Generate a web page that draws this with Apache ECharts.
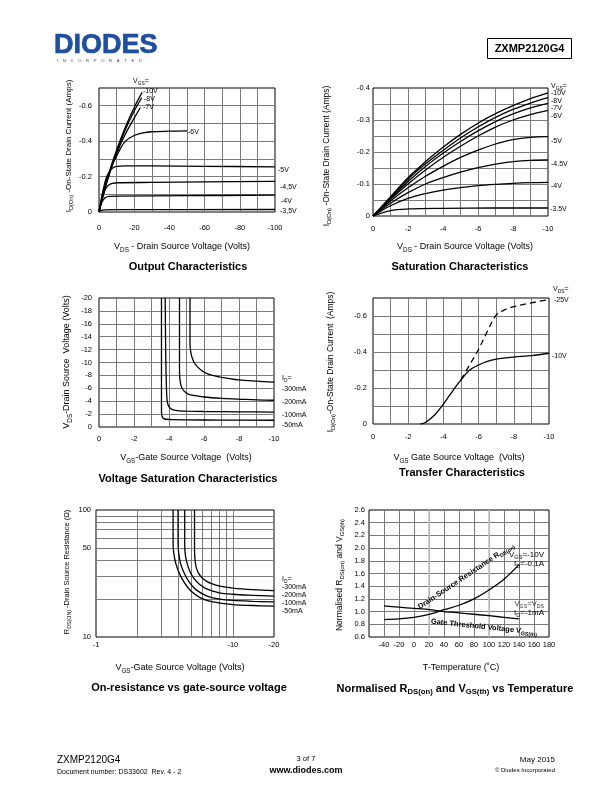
<!DOCTYPE html>
<html><head><meta charset="utf-8">
<script src="https://cdn.jsdelivr.net/npm/echarts@6/dist/echarts.min.js"></script>
<style>html,body{margin:0;padding:0;background:#fff}#c{width:612px;height:792px}</style>
</head><body><div id="c"></div>
<script>
const FF = "'Liberation Sans', Arial, Helvetica, sans-serif";

// ---- Chart 1: Output characteristics  [VDS (V), ID (A)]
const out10 = [[0,0],[-2.5,-0.11],[-5,-0.2],[-10,-0.35],[-15,-0.48],[-20,-0.59],[-24.5,-0.675]];
const out8  = [[0,0],[-2.5,-0.105],[-5,-0.195],[-10,-0.34],[-15,-0.465],[-20,-0.57],[-24.3,-0.645]];
const out7  = [[0,0],[-2.5,-0.1],[-5,-0.19],[-10,-0.33],[-15,-0.44],[-20,-0.53],[-23.5,-0.59]];
const out6  = [[0,0],[-2.5,-0.1],[-5,-0.185],[-8,-0.275],[-10,-0.315],[-12,-0.355],[-15,-0.4],[-20,-0.432],[-25,-0.447],[-30,-0.453],[-40,-0.456],[-50,-0.458]];
const out5  = [[0,0],[-1,-0.06],[-2.5,-0.13],[-4,-0.19],[-6,-0.23],[-8,-0.25],[-10,-0.257],[-15,-0.26],[-30,-0.26],[-60,-0.258],[-100,-0.255]];
const out45 = [[0,0],[-1,-0.05],[-2.5,-0.1],[-4,-0.135],[-6,-0.155],[-8,-0.162],[-10,-0.165],[-30,-0.167],[-60,-0.17],[-100,-0.173]];
const out4  = [[0,0],[-1,-0.04],[-2.5,-0.07],[-4,-0.083],[-6,-0.088],[-10,-0.09],[-50,-0.092],[-100,-0.095]];
const out35 = [[0,0],[-1,-0.008],[-3,-0.012],[-10,-0.013],[-100,-0.014]];

// ---- Chart 2: Saturation characteristics [VDS (V), ID (A)]
const sat10 = [[0,0],[-1,-0.06],[-2,-0.12],[-3,-0.17],[-4,-0.215],[-5,-0.255],[-6,-0.29],[-7,-0.32],[-8,-0.345],[-9,-0.367],[-10,-0.385]];
const sat8  = [[0,0],[-1,-0.058],[-2,-0.115],[-3,-0.163],[-4,-0.205],[-5,-0.244],[-6,-0.278],[-7,-0.308],[-8,-0.333],[-9,-0.353],[-10,-0.37]];
const sat7  = [[0,0],[-1,-0.055],[-2,-0.108],[-3,-0.155],[-4,-0.196],[-5,-0.233],[-6,-0.266],[-7,-0.295],[-8,-0.319],[-9,-0.338],[-10,-0.352]];
const sat6  = [[0,0],[-1,-0.052],[-2,-0.1],[-3,-0.144],[-4,-0.183],[-5,-0.218],[-6,-0.25],[-7,-0.278],[-8,-0.3],[-9,-0.317],[-10,-0.33]];
const sat5  = [[0,0],[-1,-0.047],[-2,-0.088],[-3,-0.124],[-4,-0.155],[-5,-0.183],[-6,-0.206],[-7,-0.225],[-8,-0.239],[-9,-0.246],[-10,-0.248]];
const sat45 = [[0,0],[-1,-0.04],[-2,-0.073],[-3,-0.1],[-4,-0.12],[-5,-0.137],[-6,-0.151],[-7,-0.162],[-8,-0.17],[-9,-0.174],[-10,-0.175]];
const sat4  = [[0,0],[-1,-0.032],[-2,-0.055],[-3,-0.07],[-4,-0.081],[-5,-0.089],[-6,-0.095],[-7,-0.099],[-8,-0.102],[-9,-0.104],[-10,-0.105]];
const sat35 = [[0,0],[-1,-0.017],[-2,-0.022],[-4,-0.024],[-7,-0.025],[-10,-0.025]];

// ---- Chart 3: Voltage saturation [VGS (V), VDS (V)]
const vs300 = [[-5.2,-20],[-5.2,-13],[-5.25,-11.5],[-5.4,-10.2],[-5.6,-9.4],[-6,-8.5],[-6.5,-8],[-7,-7.7],[-8,-7.3],[-9,-7.1],[-10,-6.95]];
const vs200 = [[-4.6,-20],[-4.6,-9],[-4.62,-7.5],[-4.7,-6.3],[-4.85,-5.6],[-5.1,-5.1],[-5.5,-4.85],[-6,-4.65],[-7,-4.45],[-8,-4.33],[-9,-4.2],[-10,-4.15]];
const vs100 = [[-3.78,-20],[-3.82,-10],[-3.86,-5.5],[-3.89,-4.2],[-3.95,-3.4],[-4.05,-2.95],[-4.25,-2.65],[-4.6,-2.5],[-5,-2.45],[-6,-2.4],[-8,-2.35],[-10,-2.3]];
const vs50  = [[-3.57,-20],[-3.57,-3],[-3.58,-2],[-3.62,-1.55],[-3.7,-1.3],[-3.85,-1.2],[-4.2,-1.13],[-5,-1.1],[-7,-1.07],[-10,-1.05]];

// ---- Chart 4: Transfer characteristics [VGS (V), ID (A)]
const tr10 = [[-2.7,0],[-3,-0.01],[-3.5,-0.05],[-4,-0.11],[-4.5,-0.18],[-5,-0.245],[-5.5,-0.3],[-6,-0.328],[-6.5,-0.348],[-7,-0.36],[-8,-0.372],[-9,-0.38],[-10,-0.393]];
const tr25 = [[-5,-0.245],[-5.5,-0.33],[-6,-0.415],[-6.5,-0.515],[-7,-0.605],[-7.5,-0.635],[-8,-0.652],[-9,-0.673],[-10,-0.692]];

// ---- Chart 5: On-resistance [VGS (V), RDS(on) (ohm)]
const r300 = [[-5.25,100],[-5.25,50],[-5.28,42],[-5.38,36],[-5.6,32],[-6,29],[-6.5,27.3],[-7,26.3],[-8,25.2],[-10,24.3],[-14,23.6],[-20,23.2]];
const r200 = [[-4.45,100],[-4.45,55],[-4.48,46],[-4.6,39],[-4.85,33],[-5.2,29],[-5.7,26],[-6.5,23.8],[-8,22.3],[-10,21.7],[-14,21.3],[-20,21]];
const r100 = [[-3.98,100],[-3.98,55],[-4.02,46],[-4.15,38],[-4.4,32],[-4.8,27],[-5.4,23.5],[-6.5,21],[-8,19.9],[-10,19.4],[-14,19.1],[-20,18.9]];
const r50  = [[-3.66,100],[-3.66,55],[-3.7,46],[-3.83,38],[-4.05,32],[-4.4,27],[-4.9,23.2],[-5.8,20.3],[-7,19],[-10,18],[-14,17.7],[-20,17.5]];
const logGridX = [2,3,4,5,6,7,8,9];
const logGridY = [20,30,40,50,60,70,80,90];

// ---- Chart 6: Normalised vs temperature
const temps   = [-40,-20,0,20,40,60,80,100,120,140];
const rdsNorm = [0.875,0.885,0.91,0.955,1.03,1.1,1.2,1.34,1.51,1.74];
const vthNorm = [1.09,1.07,1.05,1.03,1.0,0.98,0.958,0.935,0.91,0.885];

// ------------------------------------------------------------
const grids = [
  {left:99,  top:88,  width:176, height:124},
  {left:373, top:88,  width:175, height:128},
  {left:99,  top:298, width:175, height:129},
  {left:373, top:298, width:176, height:126},
  {left:96,  top:510, width:178, height:127},
  {left:369, top:510, width:180, height:127}
].map(g => Object.assign({show:true, borderColor:'#000', borderWidth:1, backgroundColor:'rgba(0,0,0,0)'}, g));

const SPL = {show:true, showMinLine:false, showMaxLine:false, lineStyle:{color:'#7a7a7a', width:1}};
function ax(gi, o, fmt, margin) {
  return Object.assign({
    gridIndex:gi, type:'value', axisLine:{show:false}, axisTick:{show:false}, splitLine:SPL,
    axisLabel:{color:'#000', fontSize:7.5, fontFamily:FF, margin:margin, formatter:fmt}
  }, o);
}
const evenInt = step => v => { const k = Math.round(v); return k % step === 0 ? String(k) : ''; };
const dec1 = v => { const k = Math.round(v*10); return k % 2 === 0 ? (k === 0 ? '0' : (k/10).toFixed(1)) : ''; };
const dec05 = v => { const k = Math.round(v*100); return k % 10 === 0 ? (k === 0 ? '0' : (k/100).toFixed(1)) : ''; };

const xAxes = [
  ax(0, {min:-100, max:0, interval:10, inverse:true}, evenInt(20), 12),
  ax(1, {min:-10, max:0, interval:1, inverse:true}, evenInt(2), 9),
  ax(2, {min:-10, max:0, interval:1, inverse:true}, evenInt(2), 8),
  ax(3, {min:-10, max:0, interval:1, inverse:true}, evenInt(2), 9),
  ax(4, {type:'log', logBase:10, min:1, max:20}, v => '-' + Math.round(v), 4),
  ax(5, {min:-60, max:180, interval:20}, v => (Math.round(v) === -60 ? '' : String(Math.round(v))), 4)
];
const yAxes = [
  ax(0, {min:-0.7, max:0, interval:0.1, inverse:true}, dec1, 7),
  ax(1, {min:-0.4, max:0, interval:0.05, inverse:true}, dec05, 3),
  ax(2, {min:-20, max:0, interval:2, inverse:true}, v => String(Math.round(v)), 7),
  ax(3, {min:-0.7, max:0, interval:0.1, inverse:true}, dec1, 6),
  ax(4, {type:'log', logBase:10, min:10, max:100}, v => String(Math.round(v)), 5),
  ax(5, {min:0.6, max:2.6, interval:0.2}, v => v.toFixed(1), 4)
];

function L(gi, data, dashed, extra) {
  return Object.assign({
    type:'line', xAxisIndex:gi, yAxisIndex:gi, data:data, showSymbol:false, symbol:'none',
    smooth:0.35, silent:true, z:3,
    lineStyle:{color:'#000', width:1.3, type: dashed ? [6,4] : 'solid'}
  }, extra || {});
}
const absX = d => d.map(p => [Math.abs(p[0]), p[1]]);

const series = [
  L(0,out10), L(0,out8), L(0,out7), L(0,out6), L(0,out5), L(0,out45), L(0,out4), L(0,out35),
  L(1,sat10), L(1,sat8), L(1,sat7), L(1,sat6), L(1,sat5), L(1,sat45), L(1,sat4), L(1,sat35),
  L(2,vs300), L(2,vs200), L(2,vs100), L(2,vs50),
  L(3,tr10), L(3,tr25,true),
  L(4,absX(r300),false,{markLine:{
    silent:true, symbol:['none','none'], z:1, animation:false,
    lineStyle:{color:'#7a7a7a', width:1, type:'solid'}, label:{show:false},
    data: logGridX.map(v => ({xAxis:v})).concat(logGridY.map(v => (
      v === 50 ? {yAxis:v, label:{show:true, position:'start', formatter:'50', color:'#000', fontSize:7.5, fontFamily:FF, distance:5}}
               : {yAxis:v})))
  }}),
  L(4,absX(r200)), L(4,absX(r100)), L(4,absX(r50)),
  L(5,temps.map((t,i)=>[t,rdsNorm[i]]),false,{markLine:{
    silent:true, symbol:['none','none'], z:1, animation:false,
    lineStyle:{color:'#c4c4c4', width:1.6, type:'solid'}, label:{show:false},
    data:[{xAxis:20},{xAxis:100}]
  }}),
  L(5,temps.map((t,i)=>[t,vthNorm[i]]),false,{smooth:0.2})
];

// ---- text helpers
function rich(size, bold, color) {
  const w = bold ? 'bold' : 'normal', c = color || '#000';
  return {
    n:{fontSize:size, fontFamily:FF, fontWeight:w, fill:c, color:c, lineHeight:size+3, verticalAlign:'middle'},
    s:{fontSize:Math.round(size*0.7*10)/10, fontFamily:FF, fontWeight:w, fill:c, color:c, verticalAlign:'bottom'}
  };
}
function T(x, y, text, o) {
  o = o || {};
  const st = {text:text, fill:o.color||'#000', fontSize:o.size||7, fontFamily:FF,
    fontWeight:o.bold?'bold':'normal', align:o.align||'left', verticalAlign:o.va||'middle'};
  if (o.rich) st.rich = o.rich;
  if (o.stroke) { st.stroke = o.stroke; st.lineWidth = o.lw || 0.5; }
  return {type:'text', x:x, y:y, rotation:o.rot||0, silent:true, z:10, style:st};
}
const PI2 = Math.PI/2;
const graphics = [
  // header
  T(54, 45.5, 'DIODES', {size:27, bold:true, color:'#1f4e9c', stroke:'#1f4e9c', lw:0.7}),
  T(57, 60.5, 'I    N    C    O    R    P    O    R    A    T    E    D', {size:4.2, color:'#444'}),
  {type:'rect', silent:true, shape:{x:487.5, y:38.5, width:84, height:20}, style:{fill:'none', stroke:'#000', lineWidth:1}},
  T(529.5, 48.5, 'ZXMP2120G4', {size:11, bold:true, align:'center'}),

  // chart 1
  T(133, 81, '{n|V}{s|GS}{n|=}', {rich:rich(7)}),
  T(143, 91, '-10V'), T(144, 99.5, '-8V'), T(143, 107.5, '-7V'), T(188, 132.5, '-6V'),
  T(278, 170, '-5V'), T(280, 187, '-4,5V'), T(281, 201.5, '-4V'), T(280, 211.5, '-3,5V'),
  T(69, 146, '{n|I}{s|D(On)}{n| -On-State Drain Current (Amps)}', {rich:rich(8), rot:PI2, align:'center'}),
  T(182, 247, '{n|V}{s|DS}{n| - Drain Source Voltage (Volts)}', {rich:rich(9), align:'center'}),
  T(188, 267, 'Output Characteristics', {size:11, bold:true, align:'center'}),

  // chart 2
  T(551, 86, '{n|V}{s|GS}{n|=}', {rich:rich(7)}),
  T(551, 93.5, '-10V'), T(551, 101, '-8V'), T(551, 108.5, '-7V'), T(551, 116, '-6V'),
  T(551, 141, '-5V'), T(551, 164.5, '-4.5V'), T(551, 186.5, '-4V'), T(550, 209.5, '-3.5V'),
  T(327, 156, '{n|I}{s|D(On)}{n| -On-State Drain Current (Amps)}', {rich:rich(8.5), rot:PI2, align:'center'}),
  T(465, 247, '{n|V}{s|DS}{n| - Drain Source Voltage (Volts)}', {rich:rich(9), align:'center'}),
  T(460, 267, 'Saturation Characteristics', {size:11, bold:true, align:'center'}),

  // chart 3
  T(282, 378.5, '{n|I}{s|D}{n|=}', {rich:rich(7)}),
  T(282, 389.5, '-300mA'), T(282, 402.5, '-200mA'), T(282, 415.5, '-100mA'), T(282, 425.5, '-50mA'),
  T(67, 362, '{n|V}{s|DS}{n|-Drain Source  Voltage (Volts)}', {rich:rich(9), rot:PI2, align:'center'}),
  T(186, 458, '{n|V}{s|GS}{n|-Gate Source Voltage  (Volts)}', {rich:rich(9), align:'center'}),
  T(188, 479, 'Voltage Saturation Characteristics', {size:11, bold:true, align:'center'}),

  // chart 4
  T(553, 289.5, '{n|V}{s|DS}{n|=}', {rich:rich(7)}),
  T(554, 300, '-25V'), T(552, 356, '-10V'),
  T(331, 362, '{n|I}{s|D(On)}{n|-On-State Drain Current  (Amps)}', {rich:rich(8.5), rot:PI2, align:'center'}),
  T(459, 458, '{n|V}{s|GS}{n| Gate Source Voltage  (Volts)}', {rich:rich(9), align:'center'}),
  T(462, 473, 'Transfer Characteristics', {size:11, bold:true, align:'center'}),

  // chart 5
  T(282, 579, '{n|I}{s|D}{n|=}', {rich:rich(7)}),
  T(282, 587.5, '-300mA'), T(282, 595.5, '-200mA'), T(282, 603, '-100mA'), T(282, 611, '-50mA'),
  T(67, 572, '{n|R}{s|DS(ON)}{n| -Drain Source Resistance (Ω)}', {rich:rich(7.5), rot:PI2, align:'center'}),
  T(180, 668, '{n|V}{s|GS}{n|-Gate Source Voltage (Volts)}', {rich:rich(9), align:'center'}),
  T(189, 688, 'On-resistance vs gate-source voltage', {size:11, bold:true, align:'center'}),

  // chart 6
  T(544, 554.5, '{n|V}{s|GS}{n|=-10V}', {rich:rich(8), align:'right'}),
  T(544, 564, '{n|I}{s|D}{n|=-0.1A}', {rich:rich(8), align:'right'}),
  T(544, 603.5, '{n|V}{s|GS}{n|=V}{s|DS}', {rich:rich(7.5,false,'#333'), align:'right'}),
  T(544, 613, '{n|I}{s|D}{n|=-1mA}', {rich:rich(8), align:'right'}),
  T(466, 576, '{n|Drain-Source Resistance R}{s|DS(on)}', {rich:rich(7.5,true), rot:0.59, align:'center'}),
  T(484, 627, '{n|Gate Threshold Voltage V}{s|GS(th)}', {rich:rich(7.5,true), rot:-0.104, align:'center'}),
  T(340, 575, '{n|Normalised R}{s|DS(on)}{n| and V}{s|GS(th)}', {rich:rich(8.5), rot:PI2, align:'center'}),
  T(461, 668, 'T-Temperature (˚C)', {size:9, align:'center'}),
  T(455, 689, '{n|Normalised R}{s|DS(on)}{n| and V}{s|GS(th)}{n| vs Temperature}', {rich:rich(11,true), align:'center'}),

  // footer
  T(57, 760, 'ZXMP2120G4', {size:10}),
  T(57, 772, 'Document number: DS33602  Rev. 4 - 2', {size:7}),
  T(306, 759, '3 of 7', {size:7.5, align:'center'}),
  T(306, 770.5, 'www.diodes.com', {size:9, bold:true, align:'center'}),
  T(555, 760, 'May 2015', {size:8, align:'right'}),
  T(555, 770.5, '© Diodes Incorporated', {size:6, align:'right'})
];

const chart = echarts.init(document.getElementById('c'), null, {renderer:'canvas', width:612, height:792});
chart.setOption({
  backgroundColor:'#fff',
  animation:false,
  textStyle:{fontFamily:FF},
  grid:grids,
  xAxis:xAxes,
  yAxis:yAxes,
  series:series,
  graphic:graphics
});
</script></body></html>
